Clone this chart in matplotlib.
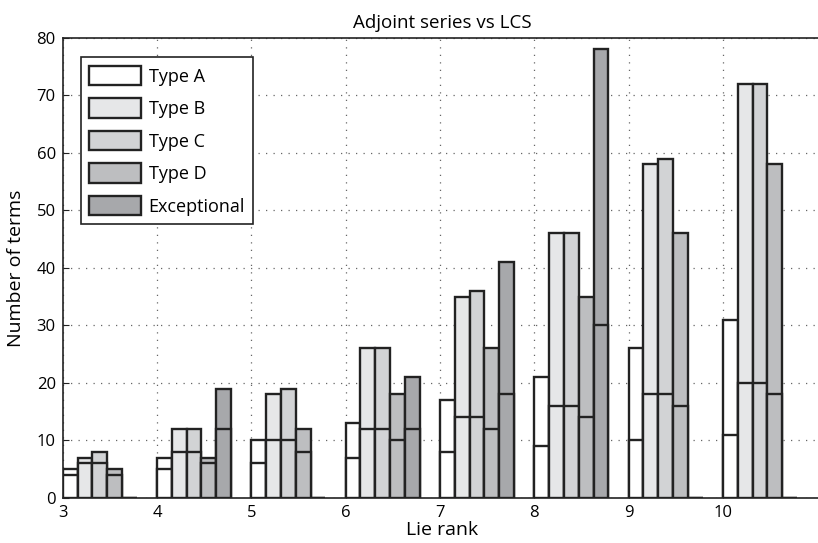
import numpy as np
import matplotlib
matplotlib.use('Agg')
import matplotlib.pyplot as plt

plt.rcParams['font.family'] = ['Open Sans', 'DejaVu Sans']

# Lie rank groups
ranks = [3, 4, 5, 6, 7, 8, 9, 10]
series = ['Type A', 'Type B', 'Type C', 'Type D', 'Exceptional']

# total number of terms (bar height) per series, one value per rank
totals = {
    'Type A':      [5, 7, 10, 13, 17, 21, 26, 31],
    'Type B':      [7, 12, 18, 26, 35, 46, 58, 72],
    'Type C':      [8, 12, 19, 26, 36, 46, 59, 72],
    'Type D':      [5, 7, 12, 18, 26, 35, 46, 58],
    'Exceptional': [0, 19, 0, 21, 41, 78, 0, 0],
}
# lower part (inner line) per series
lower = {
    'Type A':      [4, 5, 6, 7, 8, 9, 10, 11],
    'Type B':      [6, 8, 10, 12, 14, 16, 18, 20],
    'Type C':      [6, 8, 10, 12, 14, 16, 18, 20],
    'Type D':      [4, 6, 8, 10, 12, 14, 16, 18],
    'Exceptional': [0, 12, 0, 12, 18, 30, 0, 0],
}
colors = ['#ffffff', '#e6e7e8', '#d2d3d5', '#bdbec0', '#a7a8ab']

fig = plt.figure(figsize=(8.18, 5.43), dpi=100)
ax = fig.add_axes([62.7 / 818, 1 - 498 / 543, (821 - 62.7) / 818, (498 - 37.7) / 543])

w = 0.157
x = np.array(ranks, dtype=float)
for i, name in enumerate(series):
    xs = x + i * w
    ax.bar(xs, totals[name], width=w, align='edge', color=colors[i],
           edgecolor='#222222', linewidth=1.7, label=name, zorder=3)
    ax.bar(xs, lower[name], width=w, align='edge', color=colors[i],
           edgecolor='#222222', linewidth=1.7, zorder=3)

ax.set_xlim(3, 11.04)
ax.set_ylim(0, 80)
ax.set_xticks(ranks)
ax.set_yticks(np.arange(0, 81, 10))
ax.tick_params(direction='in', labelsize=12, length=4, color='#222222', pad=5)
ax.spines['right'].set_visible(False)
for s in ['top', 'left', 'bottom']:
    ax.spines[s].set_color('#222222')
    ax.spines[s].set_linewidth(1.2)
ax.grid(True, linestyle=(0, (1, 5)), color='#666666', linewidth=0.9, zorder=0)
ax.set_axisbelow(True)

ax.set_title('Adjoint series vs LCS', fontsize=13.5, pad=7)
ax.set_xlabel('Lie rank', fontsize=14, labelpad=0)
ax.set_ylabel('Number of terms', fontsize=14, labelpad=8)

leg = ax.legend(loc='upper left', bbox_to_anchor=(0.024, 0.957), borderaxespad=0,
                fontsize=13, handlelength=2.9, handleheight=1.3, handletextpad=0.4,
                labelspacing=0.7, fancybox=False, framealpha=1,
                edgecolor='#222222', borderpad=0.45)
leg.get_frame().set_linewidth(1.2)

fig.savefig('out.png', dpi=100)
